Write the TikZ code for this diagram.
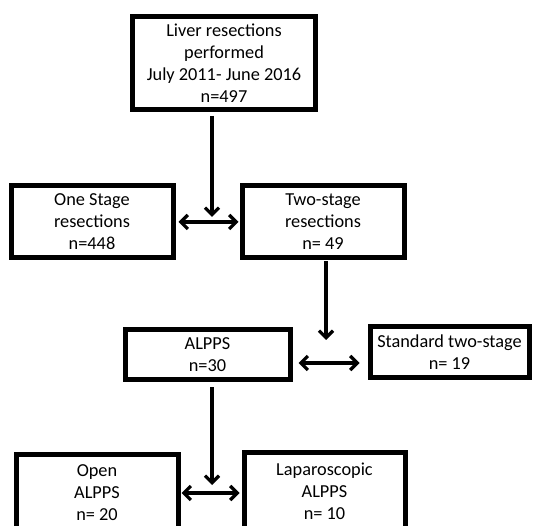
\documentclass[tikz,border=0pt]{standalone}
\usepackage{fontspec}
\setmainfont{Carlito}
\usetikzlibrary{arrows.meta}
\begin{document}
\begin{tikzpicture}[x=1pt,y=-1pt,
  box/.style={draw=black, line width=5pt, fill=white, align=center,
    font=\fontsize{18.3}{22}\selectfont, inner sep=0pt},
  arr/.style={line width=3.2pt, -{Straight Barb[length=7pt,width=14pt]}},
  darr/.style={line width=3.2pt, {Straight Barb[length=7pt,width=14pt]}-{Straight Barb[length=7pt,width=14pt]}}]
\clip (0,0) rectangle (533,526);
\fill[white] (0,0) rectangle (533,526);

\node[box, minimum width=183pt, minimum height=93pt] (top) at (224,63)
  {Liver resections\\performed\\July 2011- June 2016\\n=497};
\node[box, minimum width=162pt, minimum height=72pt] (one) at (92,222)
  {One Stage\\resections\\n=448};
\node[box, minimum width=162pt, minimum height=72pt] (two) at (323,222)
  {Two-stage\\resections\\n= 49};
\node[box, minimum width=165pt, minimum height=50pt] (alpps) at (207.5,355)
  {ALPPS\\n=30};
\node[box, minimum width=159pt, minimum height=51pt] (std) at (449.5,352.5)
  {Standard two-stage\\n= 19};
\node[box, minimum width=162pt, minimum height=76pt] (open) at (97,493)
  {Open\\ALPPS\\n= 20};
\node[box, minimum width=161pt, minimum height=76pt] (lap) at (324.5,491)
  {Laparoscopic\\ALPPS\\n= 10};

\coordinate (j1) at (212,217);
\coordinate (j2) at (326,340);
\coordinate (j3) at (212,485);

\draw[arr] (top.south -| j1) ++(0,4) -- (j1);
\draw[darr] ([xshift=3pt]one.east) -- ([xshift=-1pt]two.west);
\draw[arr] (two.south -| j2) ++(0,1) -- (j2);
\draw[darr] ([xshift=6pt]alpps.east |- 0,363) -- ([xshift=-8pt]std.west |- 0,363);
\draw[arr] (alpps.south -| j3) ++(0,5) -- (j3);
\draw[darr] ([xshift=1pt]open.east |- 0,493) -- ([xshift=-2pt]lap.west |- 0,493);
\end{tikzpicture}
\end{document}
